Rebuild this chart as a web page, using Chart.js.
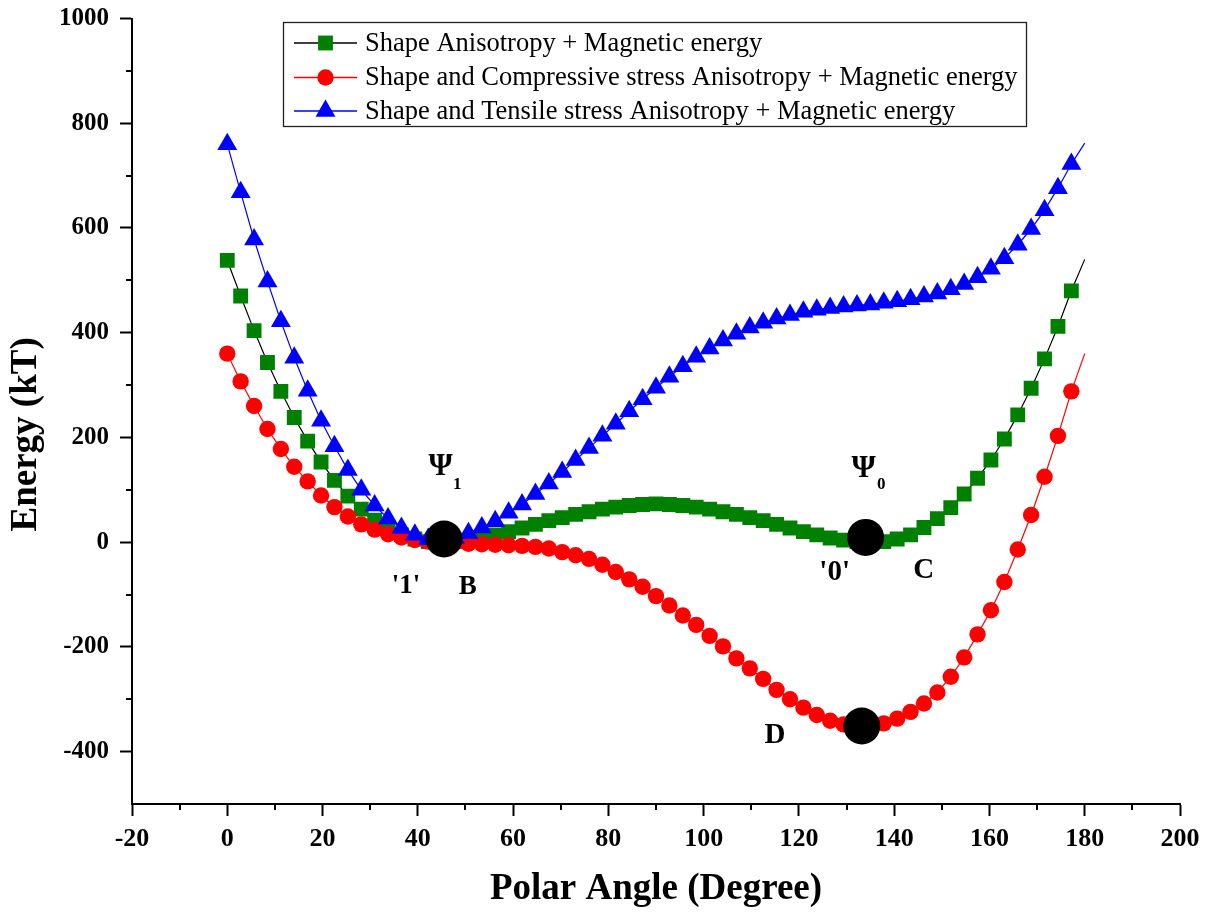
<!DOCTYPE html>
<html><head><meta charset="utf-8">
<script src="https://cdn.jsdelivr.net/npm/chart.js@4.4.1/dist/chart.umd.min.js"></script>
<style>html,body{margin:0;padding:0;background:#fff;}</style>
</head><body>
<canvas id="c" width="1211" height="916"></canvas>
<script>
// ---- data ----
const angles = [0, 2.81, 5.63, 8.44, 11.25, 14.06, 16.88, 19.69, 22.5, 25.31, 28.13, 30.94, 33.75, 36.56, 39.38, 42.19, 45, 47.81, 50.63, 53.44, 56.25, 59.06, 61.88, 64.69, 67.5, 70.31, 73.13, 75.94, 78.75, 81.56, 84.38, 87.19, 90, 92.81, 95.63, 98.44, 101.25, 104.06, 106.88, 109.69, 112.5, 115.31, 118.13, 120.94, 123.75, 126.56, 129.38, 132.19, 135, 137.81, 140.63, 143.44, 146.25, 149.06, 151.88, 154.69, 157.5, 160.31, 163.13, 165.94, 168.75, 171.56, 174.38, 177.19, 180];
const shapeOnly = [538, 470, 404, 343, 288, 238, 193, 153, 118, 88, 63, 42, 26, 14, 6, 1, 0, 1, 4, 8, 14, 20, 27, 34, 41, 47, 53, 58, 63, 67, 70, 72, 73, 72, 70, 67, 63, 58, 53, 47, 41, 34, 27, 20, 14, 8, 4, 1, 0, 1, 6, 14, 28, 45, 66, 92, 122, 157, 197, 243, 294, 350, 412, 480, 540];
const compressive = [360, 307, 260, 216, 178, 144, 116, 89, 67, 49, 34, 24, 15, 9, 4, 1, 0, -1, -3, -4, -5, -6, -7, -9, -12, -19, -25, -32, -43, -57, -71, -85, -103, -121, -140, -158, -179, -199, -222, -241, -261, -282, -300, -316, -330, -341, -348, -351, -350, -346, -337, -324, -308, -287, -257, -220, -176, -130, -76, -14, 52, 125, 203, 288, 360];
const tensile = [760, 668, 578, 498, 422, 352, 289, 232, 183, 138, 100, 70, 45, 27, 14, 6, 2, 8, 17, 28, 40, 56, 72, 92, 112, 134, 157, 180, 203, 226, 250, 273, 295, 316, 336, 354, 370, 385, 398, 410, 419, 427, 434, 440, 444, 447, 450, 452, 454, 457, 460, 464, 469, 475, 483, 493, 506, 522, 542, 568, 598, 634, 676, 722, 762];
const stateAngles = [45.5, 134, 133.2];
const stateEnergies = [6, 9, -351];
const seriesNames = [
  'Shape Anisotropy + Magnetic energy',
  'Shape and Compressive stress Anisotropy + Magnetic energy',
  'Shape and Tensile stress Anisotropy + Magnetic energy'
];
const xTitle = 'Polar Angle (Degree)';
const yTitle = 'Energy (kT)';

// ---- chart ----
const SERIF = '"Liberation Serif", "Times New Roman", serif';
const pts = ys => angles.map((a, i) => ({x: a, y: ys[i]}));
const lastIdx = angles.length - 1;
const rad = r => (ctx => ctx.dataIndex === lastIdx ? 0 : r);

const styles = [
  {line: '#000000', fill: '#008000', style: 'rect', r: 10.5},
  {line: '#ff0000', fill: '#ff0000', style: 'circle', r: 8.2},
  {line: '#0000ff', fill: '#0000ff', style: 'triangle', r: 11.5}
];
const series = [shapeOnly, compressive, tensile];
const datasets = series.map((ys, i) => ({
  label: seriesNames[i],
  data: pts(ys),
  showLine: true,
  borderColor: styles[i].line,
  borderWidth: 1.2,
  backgroundColor: styles[i].fill,
  pointStyle: styles[i].style,
  pointRadius: rad(styles[i].r),
  pointBackgroundColor: styles[i].fill,
  pointBorderColor: styles[i].fill,
  pointBorderWidth: 0,
  order: 3 - i
}));
datasets.push({
  label: 'states',
  data: stateAngles.map((a, i) => ({x: a, y: stateEnergies[i]})),
  showLine: false,
  pointStyle: 'circle',
  pointRadius: 18.5,
  pointBackgroundColor: '#000',
  pointBorderColor: '#000',
  pointBorderWidth: 0,
  order: 0
});

const annotations = [
  {t: 'Ψ', x: 44.8, y: 144, size: 31},
  {t: '1', x: 48.3, y: 110, size: 17},
  {t: "'1'", x: 37.5, y: -83, size: 27},
  {t: 'B', x: 50.5, y: -85, size: 27},
  {t: 'Ψ', x: 133.6, y: 140, size: 31},
  {t: '0', x: 137.3, y: 110, size: 17},
  {t: "'0'", x: 127.5, y: -57, size: 29},
  {t: 'C', x: 146.2, y: -55, size: 29},
  {t: 'D', x: 115, y: -370, size: 29}
];

const minorTicks = {
  id: 'minorTicks',
  afterDraw(chart) {
    const {ctx, scales: {x, y}, chartArea} = chart;
    ctx.save();
    ctx.strokeStyle = '#000';
    ctx.lineWidth = 2;
    ctx.beginPath();
    for (let v = -10; v < 200; v += 20) {
      const px = Math.round(x.getPixelForValue(v));
      ctx.moveTo(px, chartArea.bottom);
      ctx.lineTo(px, chartArea.bottom + 6);
    }
    for (let v = -300; v < 1000; v += 200) {
      const py = Math.round(y.getPixelForValue(v));
      ctx.moveTo(chartArea.left, py);
      ctx.lineTo(chartArea.left - 6, py);
    }
    ctx.stroke();
    ctx.restore();
  }
};

const labelsPlugin = {
  id: 'labelsPlugin',
  afterDatasetsDraw(chart) {
    const {ctx, scales: {x, y}} = chart;
    ctx.save();
    ctx.fillStyle = '#000';
    ctx.textAlign = 'center';
    ctx.textBaseline = 'middle';
    annotations.forEach(a => {
      ctx.font = 'bold ' + a.size + 'px ' + SERIF;
      ctx.fillText(a.t, x.getPixelForValue(a.x), y.getPixelForValue(a.y));
    });
    ctx.restore();
  }
};

const legendPlugin = {
  id: 'boxLegend',
  afterDraw(chart) {
    const {ctx} = chart;
    ctx.save();
    ctx.strokeStyle = '#222';
    ctx.lineWidth = 1.3;
    ctx.strokeRect(283.5, 22.5, 743, 104);
    const rows = [43, 77.5, 111];
    rows.forEach((ry, i) => {
      ctx.strokeStyle = styles[i].line;
      ctx.lineWidth = 1.3;
      ctx.beginPath();
      ctx.moveTo(294, ry);
      ctx.lineTo(357, ry);
      ctx.stroke();
      ctx.fillStyle = styles[i].fill;
      Chart.helpers.drawPoint(ctx, {pointStyle: styles[i].style, rotation: 0, radius: styles[i].r, borderWidth: 0}, 325.5, ry);
      ctx.fillStyle = '#000';
      ctx.font = '26.5px ' + SERIF;
      ctx.textAlign = 'left';
      ctx.textBaseline = 'middle';
      ctx.fillText(seriesNames[i], 365, ry + 1);
    });
    ctx.restore();
  }
};

new Chart(document.getElementById('c'), {
  type: 'scatter',
  data: {datasets},
  options: {
    responsive: false,
    animation: false,
    devicePixelRatio: 1,
    events: [],
    layout: {padding: {top: 12.5, right: 31, left: 0, bottom: 0}},
    plugins: {legend: {display: false}, tooltip: {enabled: false}},
    scales: {
      x: {
        type: 'linear', min: -20, max: 200,
        ticks: {stepSize: 20, padding: 8, color: '#000', font: {family: SERIF, size: 26, weight: 'bold'}, callback: v => String(v)},
        grid: {drawOnChartArea: false, drawTicks: true, tickLength: 12, tickWidth: 2, tickColor: '#000'},
        border: {display: true, color: '#000', width: 2},
        title: {display: true, text: xTitle, color: '#000', font: {family: SERIF, size: 37, weight: 'bold'}, padding: {top: 0, bottom: 4}},
        afterFit: s => { s.height = 112; s.paddingLeft = 0; s.paddingRight = 0; }
      },
      y: {
        type: 'linear', min: -500, max: 1000,
        ticks: {stepSize: 200, padding: 11, color: '#000', font: {family: SERIF, size: 25, weight: 'bold'}, callback: v => String(v)},
        afterBuildTicks: s => { s.ticks = s.ticks.filter(t => t.value !== -500); },
        grid: {drawOnChartArea: false, drawTicks: true, tickLength: 12, tickWidth: 2, tickColor: '#000'},
        border: {display: true, color: '#000', width: 2},
        title: {display: true, text: yTitle + '\u00a0\u00a0\u00a0\u00a0\u00a0', color: '#000', font: {family: SERIF, size: 37, weight: 'bold'}, padding: {top: 4, bottom: 0}},
        afterFit: s => { s.width = 132; s.paddingTop = 0; s.paddingBottom = 0; }
      }
    }
  },
  plugins: [minorTicks, labelsPlugin, legendPlugin]
});
</script>
</body></html>
